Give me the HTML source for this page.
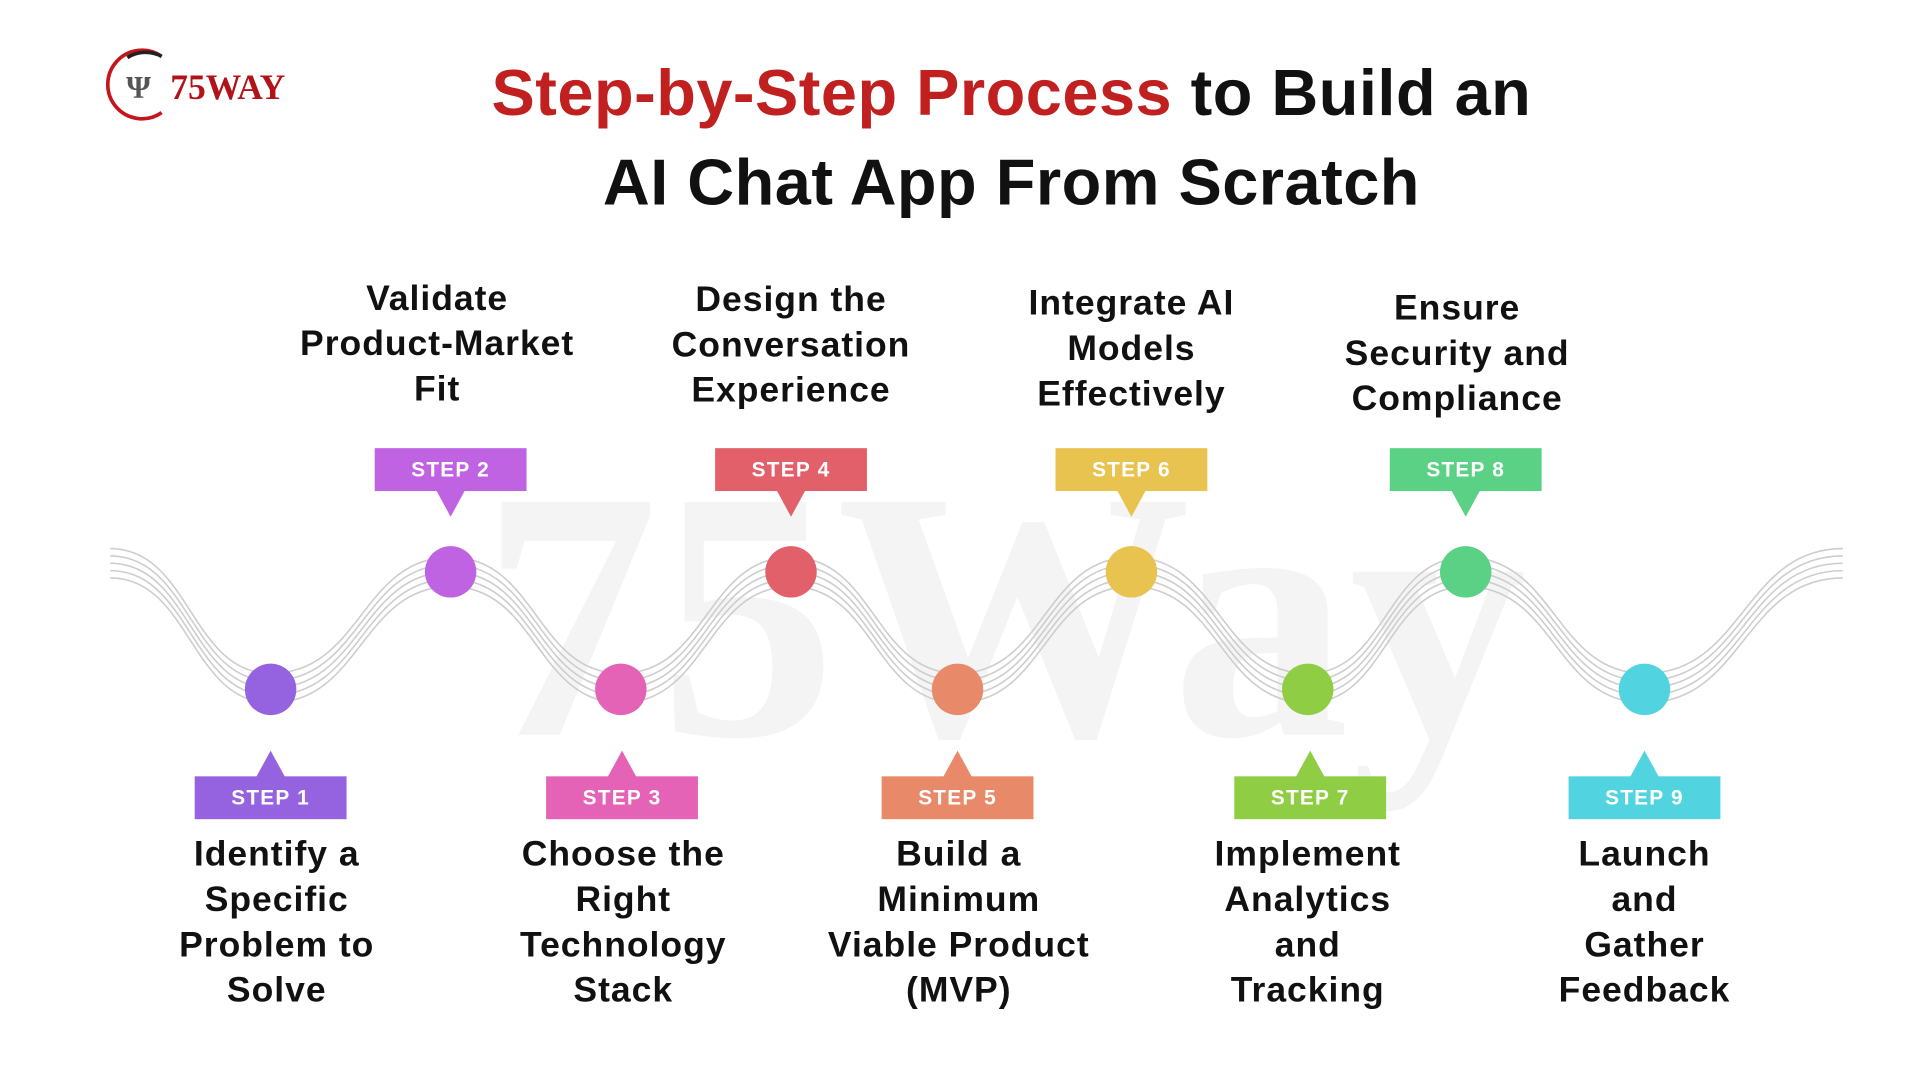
<!DOCTYPE html>
<html><head><meta charset="utf-8"><style>
html,body{margin:0;padding:0;background:#fff;width:1920px;height:1080px;overflow:hidden}
#w{position:absolute;left:0;top:0;width:1568px;height:882px;transform:scale(1.22449);transform-origin:0 0;font-family:"Liberation Sans",sans-serif}
.t{position:absolute;text-align:center;font-weight:bold;font-size:29px;line-height:37px;color:#111;width:320px;margin-left:-160px;letter-spacing:0.8px}
.tag{position:absolute;width:124px;height:35px;margin-left:-62px;color:#fff;font-weight:bold;font-size:17px;line-height:35px;text-align:center;letter-spacing:1px}
.h1{position:absolute;left:0;width:1652px;text-align:center;font-weight:bold;font-size:53px;color:#111;letter-spacing:0.4px}
</style></head><body><div id="w">
<svg width="1568" height="882" style="position:absolute;left:0;top:0">
<text x="820" y="600" text-anchor="middle" font-family="Liberation Serif,serif" font-weight="bold" font-size="290" fill="#f4f4f4">75Way</text>
<g fill="none" stroke="#cdcdcd" stroke-width="1.3">
<path id="wv" d="M90,460 C155,460 156,562 221,562 C295,562 295,467 368,467 C438,467 438,562 507,562 C577,562 577,467 646,467 C714,467 714,562 782,562 C853,562 853,467 924,467 C996,467 996,562 1068,562 C1132,562 1132,467 1197,467 C1270,467 1270,562 1343,562 C1424,562 1424,460 1505,460"/>
<use href="#wv" y="-12"/><use href="#wv" y="-6"/><use href="#wv" y="6"/><use href="#wv" y="12"/>
</g>
<g>
<circle cx="221" cy="563" r="21" fill="#9563e0"/>
<circle cx="368" cy="467" r="21" fill="#c063e3"/>
<circle cx="507" cy="563" r="21" fill="#e463b6"/>
<circle cx="646" cy="467" r="21" fill="#e2606a"/>
<circle cx="782" cy="563" r="21" fill="#e8896a"/>
<circle cx="924" cy="467" r="21" fill="#e8c34f"/>
<circle cx="1068" cy="563" r="21" fill="#8fcd45"/>
<circle cx="1197" cy="467" r="21" fill="#5ad185"/>
<circle cx="1343" cy="563" r="21" fill="#52d4e0"/>
</g>
<g>
<polygon points="356,400 380,400 368,422" fill="#c063e3"/>
<polygon points="634,400 658,400 646,422" fill="#e2606a"/>
<polygon points="912,400 936,400 924,422" fill="#e8c34f"/>
<polygon points="1185,400 1209,400 1197,422" fill="#5ad185"/>
<polygon points="209,635 233,635 221,613" fill="#9563e0"/>
<polygon points="496,635 520,635 508,613" fill="#e463b6"/>
<polygon points="770,635 794,635 782,613" fill="#e8896a"/>
<polygon points="1058,635 1082,635 1070,613" fill="#8fcd45"/>
<polygon points="1331,635 1355,635 1343,613" fill="#52d4e0"/>
</g>
<g>
<path d="M132,46 A28,28 0 1 0 132,92" fill="none" stroke="#c4161c" stroke-width="3"/>
<path d="M104,47 A28,28 0 0 1 132,46" fill="none" stroke="#222" stroke-width="3"/>
<text x="103" y="80" font-family="Liberation Serif,serif" font-weight="bold" font-size="26" fill="#555">Ψ</text>
<text x="139" y="81" font-family="Liberation Serif,serif" font-weight="bold" font-size="29" fill="#b0141a">75WAY</text>
</g>
</svg>
<div class="h1" style="top:46px;left:0"><span style="color:#c0201f">Step-by-Step Process</span> to Build an</div>
<div class="h1" style="top:119px">AI Chat App From Scratch</div>

<div class="t" style="left:357px;top:226px">Validate<br>Product-Market<br>Fit</div>
<div class="t" style="left:646px;top:227px">Design the<br>Conversation<br>Experience</div>
<div class="t" style="left:924px;top:230px">Integrate AI<br>Models<br>Effectively</div>
<div class="t" style="left:1190px;top:234px">Ensure<br>Security and<br>Compliance</div>

<div class="t" style="left:226px;top:680px">Identify a<br>Specific<br>Problem to<br>Solve</div>
<div class="t" style="left:509px;top:680px">Choose the<br>Right<br>Technology<br>Stack</div>
<div class="t" style="left:783px;top:680px">Build a<br>Minimum<br>Viable Product<br>(MVP)</div>
<div class="t" style="left:1068px;top:680px">Implement<br>Analytics<br>and<br>Tracking</div>
<div class="t" style="left:1343px;top:680px">Launch<br>and<br>Gather<br>Feedback</div>

<div class="tag" style="left:368px;top:366px;background:#c063e3">STEP 2</div>
<div class="tag" style="left:646px;top:366px;background:#e2606a">STEP 4</div>
<div class="tag" style="left:924px;top:366px;background:#e8c34f">STEP 6</div>
<div class="tag" style="left:1197px;top:366px;background:#5ad185">STEP 8</div>
<div class="tag" style="left:221px;top:634px;background:#9563e0">STEP 1</div>
<div class="tag" style="left:508px;top:634px;background:#e463b6">STEP 3</div>
<div class="tag" style="left:782px;top:634px;background:#e8896a">STEP 5</div>
<div class="tag" style="left:1070px;top:634px;background:#8fcd45">STEP 7</div>
<div class="tag" style="left:1343px;top:634px;background:#52d4e0">STEP 9</div>
</div></body></html>
